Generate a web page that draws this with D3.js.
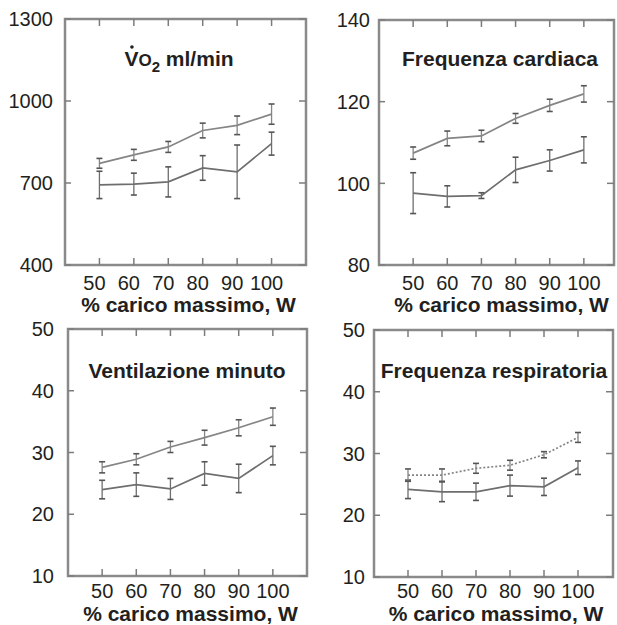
<!DOCTYPE html>
<html>
<head>
<meta charset="utf-8">
<script src="https://cdn.jsdelivr.net/npm/d3@7"></script>
<style>
  body { margin: 0; background: #fff; }
  svg text { font-family: "Liberation Sans", Arial, Helvetica, sans-serif; fill: #231f20; }
</style>
</head>
<body>
<div id="chart"></div>
<script>
// x categories (% carico massimo)
const loads = [50, 60, 70, 80, 90, 100];

// VO2 ml/min
const vo2Upper = [772, 803, 832, 892, 911, 952];
const vo2UpperErr = [18, 20, 20, 27, 34, 37];
const vo2Lower = [693, 696, 704, 755, 741, 844];
const vo2LowerErr = [50, 40, 55, 45, 98, 42];

// Frequenza cardiaca
const hrUpper = [107.4, 111.0, 111.6, 115.9, 119.1, 121.9];
const hrUpperErr = [1.5, 1.8, 1.4, 1.2, 1.5, 2.0];
const hrLower = [97.6, 96.8, 97.0, 103.3, 105.6, 108.2];
const hrLowerErr = [5.0, 2.6, 0.7, 3.1, 2.6, 3.2];

// Ventilazione minuto
const veUpper = [27.6, 28.9, 30.9, 32.4, 34.0, 35.8];
const veUpperErr = [0.9, 0.9, 0.9, 1.2, 1.3, 1.4];
const veLower = [24.0, 24.8, 24.1, 26.6, 25.8, 29.5];
const veLowerErr = [1.5, 1.9, 1.7, 1.9, 2.3, 1.5];

// Frequenza respiratoria
const rrUpper = [26.5, 26.5, 27.6, 28.1, 29.8, 32.6];
const rrUpperErr = [1.0, 1.0, 0.8, 0.8, 0.5, 0.8];
const rrLower = [24.2, 23.8, 23.8, 24.8, 24.6, 27.7];
const rrLowerErr = [1.5, 1.6, 1.4, 1.7, 1.4, 1.1];

// y tick labels
const vo2Ticks = [400, 700, 1000, 1300];
const hrTicks = [80, 100, 120, 140];
const veTicks = [10, 20, 30, 40, 50];
const rrTicks = [10, 20, 30, 40, 50];

const xLabel = "% carico massimo, W";

const width = 617, height = 625;
const svg = d3.select("#chart").append("svg")
    .attr("width", width)
    .attr("height", height);

const gray = "#7c7c7c";

// layout of each panel
const panels = [
  {title: "Frequenza cardiaca", up: hrUpper, upE: hrUpperErr, lo: hrLower, loE: hrLowerErr, ticks: hrTicks,
   left: 379, right: 614, top: 20, bottom: 265, xr: 618, ydom: [80, 140], gap: 9, tdx: 0,
   tickY: 290, labY: 312, titleX: 500, titleY: 66, dash: null},
  {title: "Ventilazione minuto", up: veUpper, upE: veUpperErr, lo: veLower, loE: veLowerErr, ticks: veTicks,
   left: 68, right: 307, top: 329, bottom: 576, xr: 307, ydom: [10, 50], gap: 14, tdx: 0,
   tickY: 598, labY: 621, titleX: 187, titleY: 378, dash: null},
  {title: "Frequenza respiratoria", up: rrUpper, upE: rrUpperErr, lo: rrLower, loE: rrLowerErr, ticks: rrTicks,
   left: 374, right: 613, top: 330, bottom: 577, xr: 612, ydom: [10, 50], gap: 9, tdx: 0,
   tickY: 598, labY: 621, titleX: 494, titleY: 378, dash: "2,2"},
  {title: null, up: vo2Upper, upE: vo2UpperErr, lo: vo2Lower, loE: vo2LowerErr, ticks: vo2Ticks,
   left: 65, right: 306, top: 19, bottom: 265, xr: 306, ydom: [400, 1300], gap: 12, tdx: -5,
   tickY: 290, labY: 312, titleX: 179, titleY: 66, dash: null}
];

panels.forEach(function(p){
  const x = d3.scaleLinear().domain([40, 110]).range([p.left, p.xr]);
  const y = d3.scaleLinear().domain(p.ydom).range([p.bottom, p.top]);
  const g = svg.append("g");

  // frame
  g.append("rect")
    .attr("x", p.left).attr("y", p.top)
    .attr("width", p.right - p.left).attr("height", p.bottom - p.top)
    .attr("fill", "none").attr("stroke", "#8a8a8a").attr("stroke-width", 2.5);

  // inner ticks, all four sides
  g.selectAll(".xb").data(loads).enter().append("line")
    .attr("x1", d => x(d)).attr("x2", d => x(d))
    .attr("y1", p.bottom).attr("y2", p.bottom - 7)
    .attr("stroke", gray).attr("stroke-width", 1.5);
  g.selectAll(".xt").data(loads).enter().append("line")
    .attr("x1", d => x(d)).attr("x2", d => x(d))
    .attr("y1", p.top).attr("y2", p.top + 7)
    .attr("stroke", gray).attr("stroke-width", 1.5);
  g.selectAll(".yl").data(p.ticks).enter().append("line")
    .attr("x1", p.left).attr("x2", p.left + 6)
    .attr("y1", d => y(d)).attr("y2", d => y(d))
    .attr("stroke", gray).attr("stroke-width", 1.5);
  g.selectAll(".yr").data(p.ticks).enter().append("line")
    .attr("x1", p.right).attr("x2", p.right - 7)
    .attr("y1", d => y(d)).attr("y2", d => y(d))
    .attr("stroke", gray).attr("stroke-width", 1.5);

  // tick labels
  g.selectAll(".ylab").data(p.ticks).enter().append("text")
    .attr("x", p.left - p.gap).attr("y", d => y(d))
    .attr("dy", "0.36em")
    .attr("text-anchor", "end")
    .attr("font-size", "20px")
    .text(d => d);
  g.selectAll(".xlab").data(loads).enter().append("text")
    .attr("x", d => x(d) + p.tdx).attr("y", p.tickY)
    .attr("text-anchor", "middle")
    .attr("font-size", "20px")
    .text(d => d);

  // x axis title
  g.append("text")
    .attr("x", (x(50) + x(100)) / 2 + 3).attr("y", p.labY)
    .attr("text-anchor", "middle")
    .attr("font-size", "21px").attr("font-weight", "bold")
    .text(xLabel);

  // series with error bars
  const series = [
    {vals: p.lo, errs: p.loE, color: "#6e6e6e", dash: null},
    {vals: p.up, errs: p.upE, color: "#858585", dash: p.dash}
  ];
  series.forEach(function(s){
    const pts = loads.map((l, i) => ({x: l, v: s.vals[i], e: s.errs[i]}));
    const line = d3.line().x(d => x(d.x)).y(d => y(d.v));
    g.append("path").datum(pts)
      .attr("d", line)
      .attr("fill", "none")
      .attr("stroke", s.color)
      .attr("stroke-width", 1.7)
      .attr("stroke-dasharray", s.dash);
    g.selectAll(null).data(pts).enter().append("line")
      .attr("x1", d => x(d.x)).attr("x2", d => x(d.x))
      .attr("y1", d => y(d.v - d.e)).attr("y2", d => y(d.v + d.e))
      .attr("stroke", s.color).attr("stroke-width", 1.3);
    [-1, 1].forEach(function(sign){
      g.selectAll(null).data(pts).enter().append("line")
        .attr("x1", d => x(d.x) - 3).attr("x2", d => x(d.x) + 3)
        .attr("y1", d => y(d.v + sign * d.e)).attr("y2", d => y(d.v + sign * d.e))
        .attr("stroke", "#555").attr("stroke-width", 1.6);
    });
  });

  // panel title
  if (p.title) {
    g.append("text")
      .attr("x", p.titleX).attr("y", p.titleY)
      .attr("text-anchor", "middle")
      .attr("font-size", "21px").attr("font-weight", "bold")
      .text(p.title);
  } else {
    const t = g.append("text")
      .attr("x", p.titleX).attr("y", p.titleY)
      .attr("text-anchor", "middle")
      .attr("font-size", "21px").attr("font-weight", "bold");
    t.append("tspan").text("V");
    t.append("tspan").attr("font-size", "17px").text("O");
    t.append("tspan").attr("font-size", "15px").attr("dy", 6).text("2");
    t.append("tspan").attr("dy", -6).text(" ml/min");
    // dot over the V
    const bb = t.node().getBBox();
    g.append("circle")
      .attr("cx", bb.x + 7.5).attr("cy", p.titleY - 19)
      .attr("r", 1.8).attr("fill", "#231f20");
  }
});
</script>
</body>
</html>
